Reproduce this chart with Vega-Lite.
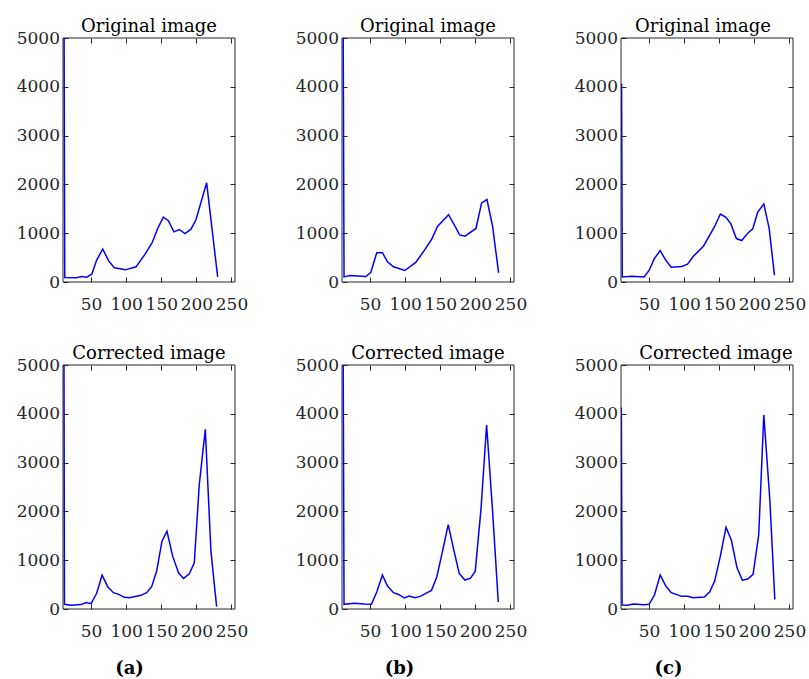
{
  "$schema": "https://vega.github.io/schema/vega-lite/v6.json",
  "padding": {"left": 16, "top": 18, "right": 5, "bottom": 2},
  "background": "white",
  "config": {
    "view": {"stroke": null},
    "axis": {"grid": false, "domain": false, "tickColor": "#262626", "tickSize": -5, "tickWidth": 1, "labelFont": "DejaVu Serif", "labelFontSize": 17, "labelColor": "#262626", "labelOverlap": false, "labelFlush": false, "labelPadding": 19, "title": null},
    "title": {"font": "DejaVu Serif", "fontSize": 18, "fontWeight": "normal", "color": "#000000", "offset": -7}
  },
  "datasets": {
    "box": [{"x0": 10, "x1": 255, "y0": 0, "y1": 5000}],
    "p1": [{"x":11,"y":8000},{"x":12.5,"y":91},{"x":28.7,"y":85},{"x":35.8,"y":112},{"x":43.8,"y":98},{"x":51,"y":160},{"x":58,"y":449},{"x":66.6,"y":676},{"x":75.2,"y":428},{"x":83.2,"y":290},{"x":98.9,"y":249},{"x":114,"y":311},{"x":126,"y":552},{"x":136.8,"y":800},{"x":144.9,"y":1097},{"x":152.9,"y":1331},{"x":160,"y":1256},{"x":168,"y":1028},{"x":175.7,"y":1076},{"x":183.7,"y":993},{"x":192.3,"y":1083},{"x":199.4,"y":1275},{"x":214.6,"y":2033},{"x":230.3,"y":105}],
    "p2": [{"x":11,"y":8000},{"x":12.9,"y":105},{"x":21.5,"y":133},{"x":43.8,"y":112},{"x":51,"y":195},{"x":59.5,"y":601},{"x":67.6,"y":601},{"x":74.8,"y":415},{"x":83.3,"y":311},{"x":99.5,"y":236},{"x":115,"y":401},{"x":127,"y":642},{"x":138,"y":883},{"x":146,"y":1138},{"x":161.8,"y":1380},{"x":169.9,"y":1173},{"x":177.5,"y":966},{"x":185,"y":939},{"x":200.8,"y":1097},{"x":208.9,"y":1621},{"x":216.5,"y":1690},{"x":224.5,"y":1138},{"x":233.1,"y":188}],
    "p3": [{"x":10.8,"y":4070},{"x":11.8,"y":105},{"x":25.3,"y":119},{"x":42.9,"y":105},{"x":50,"y":236},{"x":57.7,"y":484},{"x":65.8,"y":642},{"x":74.3,"y":435},{"x":81.5,"y":304},{"x":96.7,"y":318},{"x":104.8,"y":366},{"x":113.4,"y":532},{"x":127.7,"y":739},{"x":143.4,"y":1138},{"x":151.5,"y":1393},{"x":159.6,"y":1324},{"x":166.7,"y":1186},{"x":174.3,"y":890},{"x":182,"y":849},{"x":190.5,"y":1001},{"x":197.7,"y":1090},{"x":204.8,"y":1434},{"x":213.4,"y":1600},{"x":221,"y":1104},{"x":228.6,"y":140}],
    "p4": [{"x":11,"y":8000},{"x":12.1,"y":96},{"x":21.6,"y":76},{"x":35.8,"y":90},{"x":42.9,"y":131},{"x":50,"y":110},{"x":58,"y":321},{"x":65.7,"y":695},{"x":73.7,"y":457},{"x":81.8,"y":335},{"x":89.4,"y":300},{"x":97.4,"y":239},{"x":104.6,"y":232},{"x":121.1,"y":280},{"x":129.2,"y":335},{"x":136.3,"y":457},{"x":143.4,"y":777},{"x":151,"y":1389},{"x":158.1,"y":1593},{"x":166.2,"y":1083},{"x":174.7,"y":736},{"x":181.8,"y":627},{"x":189.9,"y":722},{"x":197,"y":947},{"x":204.1,"y":2546},{"x":212.7,"y":3682},{"x":220.7,"y":1185},{"x":228.8,"y":49}],
    "p5": [{"x":11,"y":8000},{"x":12.9,"y":96},{"x":27.2,"y":116},{"x":41.5,"y":102},{"x":51.9,"y":96},{"x":59.5,"y":347},{"x":67.6,"y":695},{"x":74.8,"y":471},{"x":83.3,"y":335},{"x":91.4,"y":293},{"x":98.5,"y":225},{"x":105.7,"y":266},{"x":114.2,"y":232},{"x":121.3,"y":259},{"x":129.4,"y":321},{"x":137.5,"y":382},{"x":145.1,"y":661},{"x":153.2,"y":1185},{"x":161.3,"y":1729},{"x":168.9,"y":1232},{"x":177,"y":729},{"x":185.1,"y":593},{"x":192.7,"y":627},{"x":199.8,"y":770},{"x":207.9,"y":2035},{"x":216,"y":3770},{"x":224.5,"y":2001},{"x":232.6,"y":143}],
    "p6": [{"x":10.5,"y":4130},{"x":11.5,"y":82},{"x":19.1,"y":75},{"x":27.7,"y":102},{"x":42,"y":89},{"x":50,"y":96},{"x":57.7,"y":286},{"x":65.8,"y":695},{"x":73.9,"y":471},{"x":81.5,"y":335},{"x":96.7,"y":259},{"x":105.3,"y":259},{"x":112.4,"y":232},{"x":128.6,"y":246},{"x":136.2,"y":347},{"x":143.4,"y":572},{"x":151.5,"y":1083},{"x":159.6,"y":1674},{"x":167.2,"y":1409},{"x":175.3,"y":844},{"x":182.9,"y":586},{"x":191,"y":620},{"x":198.1,"y":709},{"x":206.2,"y":1525},{"x":213.4,"y":3977},{"x":222,"y":2240},{"x":229.1,"y":198}]
  },
  "spacing": 33,
  "vconcat": [
    {
      "bounds": "flush",
      "spacing": 107,
      "hconcat": [
        {
          "width": 172, "height": 244,
          "title": {"text": "Original image"},
          "layer": [
            {"data": {"name": "p1"}, "mark": {"type": "line", "color": "#0000ff", "strokeWidth": 1.5, "clip": true},
             "encoding": {
               "x": {"field": "x", "type": "quantitative", "scale": {"domain": [10, 255], "nice": false, "zero": false}, "axis": {"orient": "bottom", "values": [50, 100, 150, 200, 250]}},
               "y": {"field": "y", "type": "quantitative", "scale": {"domain": [0, 5000], "nice": false}, "axis": {"orient": "left", "format": "d", "values": [0, 1000, 2000, 3000, 4000, 5000], "labelPadding": 8.5}}}},
            {"data": {"name": "box"}, "mark": {"type": "rect", "fillOpacity": 0, "stroke": "#262626", "strokeWidth": 1},
             "encoding": {
               "x": {"field": "x0", "type": "quantitative", "axis": {"orient": "top", "labels": false, "labelPadding": 0, "values": [50, 100, 150, 200, 250]}},
               "x2": {"field": "x1"},
               "y": {"field": "y0", "type": "quantitative", "axis": {"orient": "right", "labels": false, "labelPadding": 0, "values": [1000, 2000, 3000, 4000]}},
               "y2": {"field": "y1"}}}
          ],
          "resolve": {"axis": {"x": "independent", "y": "independent"}}
        },
        {
          "width": 172, "height": 244,
          "title": {"text": "Original image"},
          "layer": [
            {"data": {"name": "p2"}, "mark": {"type": "line", "color": "#0000ff", "strokeWidth": 1.5, "clip": true},
             "encoding": {
               "x": {"field": "x", "type": "quantitative", "scale": {"domain": [10, 255], "nice": false, "zero": false}, "axis": {"orient": "bottom", "values": [50, 100, 150, 200, 250]}},
               "y": {"field": "y", "type": "quantitative", "scale": {"domain": [0, 5000], "nice": false}, "axis": {"orient": "left", "format": "d", "values": [0, 1000, 2000, 3000, 4000, 5000], "labelPadding": 8.5}}}},
            {"data": {"name": "box"}, "mark": {"type": "rect", "fillOpacity": 0, "stroke": "#262626", "strokeWidth": 1},
             "encoding": {
               "x": {"field": "x0", "type": "quantitative", "axis": {"orient": "top", "labels": false, "labelPadding": 0, "values": [50, 100, 150, 200, 250]}},
               "x2": {"field": "x1"},
               "y": {"field": "y0", "type": "quantitative", "axis": {"orient": "right", "labels": false, "labelPadding": 0, "values": [1000, 2000, 3000, 4000]}},
               "y2": {"field": "y1"}}}
          ],
          "resolve": {"axis": {"x": "independent", "y": "independent"}}
        },
        {
          "width": 172, "height": 244,
          "title": {"text": "Original image", "dx": -4},
          "layer": [
            {"data": {"name": "p3"}, "mark": {"type": "line", "color": "#0000ff", "strokeWidth": 1.5, "clip": true},
             "encoding": {
               "x": {"field": "x", "type": "quantitative", "scale": {"domain": [10, 255], "nice": false, "zero": false}, "axis": {"orient": "bottom", "values": [50, 100, 150, 200, 250]}},
               "y": {"field": "y", "type": "quantitative", "scale": {"domain": [0, 5000], "nice": false}, "axis": {"orient": "left", "format": "d", "values": [0, 1000, 2000, 3000, 4000, 5000], "labelPadding": 8.5}}}},
            {"data": {"name": "box"}, "mark": {"type": "rect", "fillOpacity": 0, "stroke": "#262626", "strokeWidth": 1},
             "encoding": {
               "x": {"field": "x0", "type": "quantitative", "axis": {"orient": "top", "labels": false, "labelPadding": 0, "values": [50, 100, 150, 200, 250]}},
               "x2": {"field": "x1"},
               "y": {"field": "y0", "type": "quantitative", "axis": {"orient": "right", "labels": false, "labelPadding": 0, "values": [1000, 2000, 3000, 4000]}},
               "y2": {"field": "y1"}}}
          ],
          "resolve": {"axis": {"x": "independent", "y": "independent"}}
        }
      ]
    },
    {
      "bounds": "flush",
      "spacing": 107,
      "hconcat": [
        {
          "width": 172, "height": 244,
          "title": {"text": "Corrected image"},
          "layer": [
            {"data": {"name": "p4"}, "mark": {"type": "line", "color": "#0000ff", "strokeWidth": 1.5, "clip": true},
             "encoding": {
               "x": {"field": "x", "type": "quantitative", "scale": {"domain": [10, 255], "nice": false, "zero": false}, "axis": {"orient": "bottom", "values": [50, 100, 150, 200, 250], "title": "(a)", "titleFont": "DejaVu Serif", "titleFontSize": 18, "titleFontWeight": "bold", "titleColor": "#000000", "titlePadding": 20, "titleX": 66}},
               "y": {"field": "y", "type": "quantitative", "scale": {"domain": [0, 5000], "nice": false}, "axis": {"orient": "left", "format": "d", "values": [0, 1000, 2000, 3000, 4000, 5000], "labelPadding": 8.5}}}},
            {"data": {"name": "box"}, "mark": {"type": "rect", "fillOpacity": 0, "stroke": "#262626", "strokeWidth": 1},
             "encoding": {
               "x": {"field": "x0", "type": "quantitative", "axis": {"orient": "top", "labels": false, "labelPadding": 0, "values": [50, 100, 150, 200, 250]}},
               "x2": {"field": "x1"},
               "y": {"field": "y0", "type": "quantitative", "axis": {"orient": "right", "labels": false, "labelPadding": 0, "values": [1000, 2000, 3000, 4000]}},
               "y2": {"field": "y1"}}}
          ],
          "resolve": {"axis": {"x": "independent", "y": "independent"}}
        },
        {
          "width": 172, "height": 244,
          "title": {"text": "Corrected image"},
          "layer": [
            {"data": {"name": "p5"}, "mark": {"type": "line", "color": "#0000ff", "strokeWidth": 1.5, "clip": true},
             "encoding": {
               "x": {"field": "x", "type": "quantitative", "scale": {"domain": [10, 255], "nice": false, "zero": false}, "axis": {"orient": "bottom", "values": [50, 100, 150, 200, 250], "title": "(b)", "titleFont": "DejaVu Serif", "titleFontSize": 18, "titleFontWeight": "bold", "titleColor": "#000000", "titlePadding": 20, "titleX": 57}},
               "y": {"field": "y", "type": "quantitative", "scale": {"domain": [0, 5000], "nice": false}, "axis": {"orient": "left", "format": "d", "values": [0, 1000, 2000, 3000, 4000, 5000], "labelPadding": 8.5}}}},
            {"data": {"name": "box"}, "mark": {"type": "rect", "fillOpacity": 0, "stroke": "#262626", "strokeWidth": 1},
             "encoding": {
               "x": {"field": "x0", "type": "quantitative", "axis": {"orient": "top", "labels": false, "labelPadding": 0, "values": [50, 100, 150, 200, 250]}},
               "x2": {"field": "x1"},
               "y": {"field": "y0", "type": "quantitative", "axis": {"orient": "right", "labels": false, "labelPadding": 0, "values": [1000, 2000, 3000, 4000]}},
               "y2": {"field": "y1"}}}
          ],
          "resolve": {"axis": {"x": "independent", "y": "independent"}}
        },
        {
          "width": 172, "height": 244,
          "title": {"text": "Corrected image", "dx": 9},
          "layer": [
            {"data": {"name": "p6"}, "mark": {"type": "line", "color": "#0000ff", "strokeWidth": 1.5, "clip": true},
             "encoding": {
               "x": {"field": "x", "type": "quantitative", "scale": {"domain": [10, 255], "nice": false, "zero": false}, "axis": {"orient": "bottom", "values": [50, 100, 150, 200, 250], "title": "(c)", "titleFont": "DejaVu Serif", "titleFontSize": 18, "titleFontWeight": "bold", "titleColor": "#000000", "titlePadding": 20, "titleX": 47}},
               "y": {"field": "y", "type": "quantitative", "scale": {"domain": [0, 5000], "nice": false}, "axis": {"orient": "left", "format": "d", "values": [0, 1000, 2000, 3000, 4000, 5000], "labelPadding": 8.5}}}},
            {"data": {"name": "box"}, "mark": {"type": "rect", "fillOpacity": 0, "stroke": "#262626", "strokeWidth": 1},
             "encoding": {
               "x": {"field": "x0", "type": "quantitative", "axis": {"orient": "top", "labels": false, "labelPadding": 0, "values": [50, 100, 150, 200, 250]}},
               "x2": {"field": "x1"},
               "y": {"field": "y0", "type": "quantitative", "axis": {"orient": "right", "labels": false, "labelPadding": 0, "values": [1000, 2000, 3000, 4000]}},
               "y2": {"field": "y1"}}}
          ],
          "resolve": {"axis": {"x": "independent", "y": "independent"}}
        }
      ]
    }
  ]
}
